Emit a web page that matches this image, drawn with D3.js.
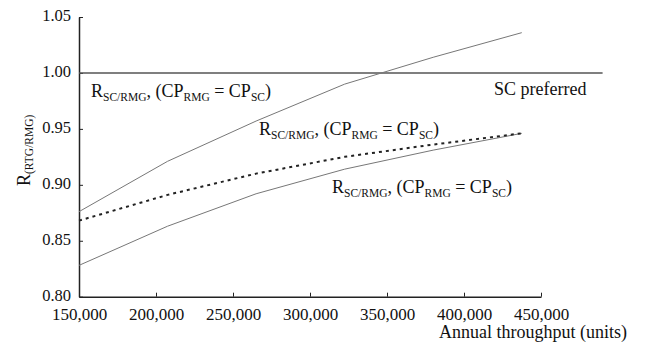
<!DOCTYPE html>
<html>
<head>
<meta charset="utf-8">
<script src="https://cdn.jsdelivr.net/npm/d3@7"></script>
<style>
body { margin:0; background:#fff; }
text { font-family:"Liberation Serif","Times New Roman",serif; fill:#111; }
</style>
</head>
<body>
<div id="chart"></div>
<script>
// values
var throughput = [150000, 207500, 265000, 322500, 380000, 437500];
var upper = [0.876, 0.921, 0.957, 0.990, 1.014, 1.036];
var dotted = [0.868, 0.891, 0.910, 0.925, 0.936, 0.946];
var lower = [0.828, 0.863, 0.892, 0.914, 0.931, 0.946];
var xTicks = [150000, 200000, 250000, 300000, 350000, 400000, 450000];
var yTicks = [0.80, 0.85, 0.90, 0.95, 1.00, 1.05];
var refValue = 1.00, refEnd = 490000;

var svg_width = 658, svg_height = 349;
var svg = d3.select("#chart").append("svg")
    .attr("width", svg_width)
    .attr("height", svg_height);

var x_scale = d3.scaleLinear().domain([150000, 450000]).range([79, 541]);
var y_scale = d3.scaleLinear().domain([0.80, 1.05]).range([296.7, 17]);

// axes, ticks pointing inward
var bottom_axis = d3.axisBottom(x_scale).tickValues(xTicks)
    .tickSizeInner(-4).tickSizeOuter(0).tickPadding(11)
    .tickFormat(d3.format(","));
var left_axis = d3.axisLeft(y_scale).tickValues(yTicks)
    .tickSizeInner(-4).tickSizeOuter(0).tickPadding(11)
    .tickFormat(d3.format(".2f"));

var gx = svg.append("g").attr("transform", "translate(0," + y_scale(0.80) + ")").call(bottom_axis);
var gy = svg.append("g").attr("transform", "translate(" + x_scale(150000) + ",0)").call(left_axis);
[gx, gy].forEach(function(g){
    g.select(".domain").attr("stroke", "#222").attr("stroke-width", 1.5);
    g.selectAll(".tick line").attr("stroke", "#222");
    g.selectAll(".tick text").attr("font-family", "Liberation Serif").attr("fill", "#111");
});
gx.selectAll(".tick text").attr("font-size", 17);
gy.selectAll(".tick text").attr("font-size", 16.5).attr("x", -8).attr("dy", "0.2em");

// reference line
svg.append("line")
    .attr("x1", x_scale(150000)).attr("x2", x_scale(refEnd))
    .attr("y1", y_scale(refValue)).attr("y2", y_scale(refValue))
    .attr("stroke", "#555").attr("stroke-width", 1.6);

var line = d3.line()
    .x(function(d, i){ return x_scale(throughput[i]); })
    .y(function(d){ return y_scale(d); });

svg.append("path").attr("d", line(upper))
    .attr("fill", "none").attr("stroke", "#777").attr("stroke-width", 1);
svg.append("path").attr("d", line(lower))
    .attr("fill", "none").attr("stroke", "#777").attr("stroke-width", 1);
svg.append("path").attr("d", line(dotted))
    .attr("fill", "none").attr("stroke", "#222").attr("stroke-width", 2)
    .attr("stroke-dasharray", "3,4");

// curve labels
var labelParts = [
    {t:"R", sub:false}, {t:"SC/RMG", sub:true}, {t:", (CP", sub:false},
    {t:"RMG", sub:true}, {t:" = CP", sub:false}, {t:"SC", sub:true}, {t:")", sub:false}
];
function addLabel(x, y){
    var t = svg.append("text").attr("x", x).attr("y", y).attr("font-size", 18);
    var prevSub = false;
    labelParts.forEach(function(p){
        var dy = 0;
        if (p.sub && !prevSub) dy = 4;
        if (!p.sub && prevSub) dy = -4;
        t.append("tspan").attr("dy", dy)
            .attr("font-size", p.sub ? 11.5 : 18)
            .text(p.t);
        prevSub = p.sub;
    });
}
addLabel(91, 97);
addLabel(259, 135);
addLabel(332, 193);

svg.append("text").attr("x", 494).attr("y", 95).attr("font-size", 18).text("SC preferred");
svg.append("text").attr("x", 627).attr("y", 338).attr("text-anchor", "end")
    .attr("font-size", 18).text("Annual throughput (units)");

// y label
var yl = svg.append("text").attr("transform", "translate(30,186) rotate(-90)").attr("font-size", 18);
yl.append("tspan").text("R");
yl.append("tspan").attr("dy", 3).attr("font-size", 11.5).text("(RTG/RMG)");
</script>
</body>
</html>
